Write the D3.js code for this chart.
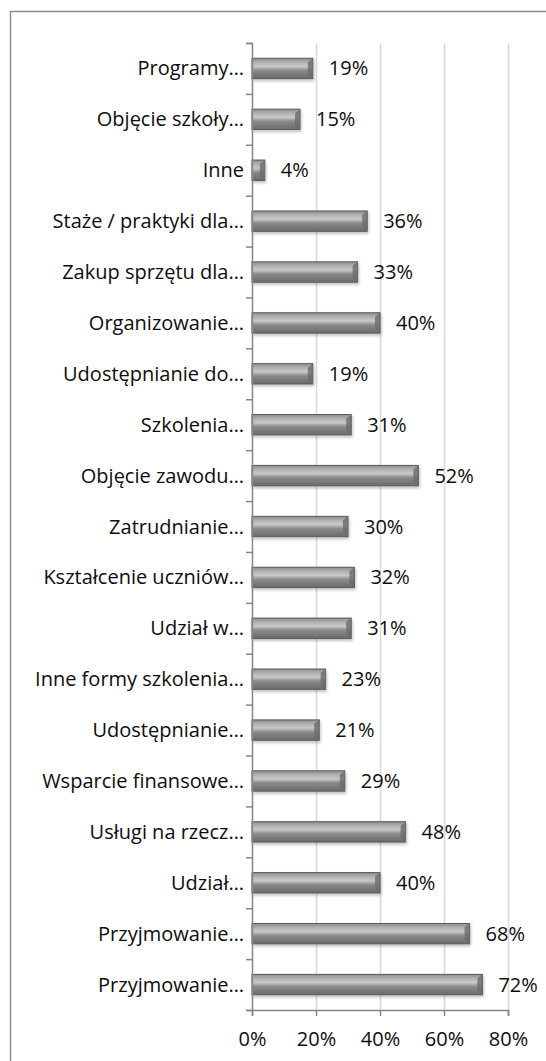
<!DOCTYPE html>
<html>
<head>
<meta charset="utf-8">
<script src="https://cdn.jsdelivr.net/npm/d3@7"></script>
<style>
  body { margin: 0; background: #fff; }
  text { font-family: "Open Sans", Lato, sans-serif; fill: #0d0d0d; }
</style>
</head>
<body>
<script>
var categories = [
  "Programy…", "Objęcie szkoły…", "Inne", "Staże / praktyki dla…",
  "Zakup sprzętu dla…", "Organizowanie…", "Udostępnianie do…", "Szkolenia…",
  "Objęcie zawodu…", "Zatrudnianie…", "Kształcenie uczniów…", "Udział w…",
  "Inne formy szkolenia…", "Udostępnianie…", "Wsparcie finansowe…",
  "Usługi na rzecz…", "Udział…", "Przyjmowanie…", "Przyjmowanie…"
];
var values = [0.19, 0.15, 0.04, 0.36, 0.33, 0.40, 0.19, 0.31, 0.52, 0.30,
              0.32, 0.31, 0.23, 0.21, 0.29, 0.48, 0.40, 0.68, 0.72];
var ticks = [0, 0.2, 0.4, 0.6, 0.8];

var width = 546, height = 1061,
    plotLeft = 252, plotRight = 508, plotTop = 43, plotBottom = 1010,
    fontSize = "20px";

var svg = d3.select("body").append("svg")
    .attr("width", width)
    .attr("height", height);

var defs = svg.append("defs");
var grad = defs.append("linearGradient")
    .attr("id", "barGrad")
    .attr("x1", 0).attr("y1", 0).attr("x2", 0).attr("y2", 1);
grad.append("stop").attr("offset", "0%").attr("stop-color", "#8e8e8e");
grad.append("stop").attr("offset", "22%").attr("stop-color", "#b4b4b4");
grad.append("stop").attr("offset", "40%").attr("stop-color", "#c9c9c9");
grad.append("stop").attr("offset", "60%").attr("stop-color", "#8a8a8a");
grad.append("stop").attr("offset", "100%").attr("stop-color", "#6a6a6a");

var shadow = defs.append("filter").attr("id", "shadow")
    .attr("x", "-10%").attr("y", "-30%").attr("width", "130%").attr("height", "180%");
shadow.append("feDropShadow")
    .attr("dx", 1).attr("dy", 2).attr("stdDeviation", 1.5)
    .attr("flood-color", "#000").attr("flood-opacity", 0.25);

// chart border
svg.append("rect")
    .attr("x", 10.5).attr("y", 11.5)
    .attr("width", 560).attr("height", 1080)
    .attr("fill", "none")
    .attr("stroke", "#8c8c8c")
    .attr("stroke-width", 1.5);

var x = d3.scaleLinear().domain([0, 0.8]).range([plotLeft, plotRight]);
var y = d3.scaleBand().domain(d3.range(categories.length))
    .range([plotTop, plotBottom]).paddingInner(0.6).paddingOuter(0.3);

// grid lines
svg.append("g").selectAll("line")
    .data(ticks.slice(1))
    .enter().append("line")
    .attr("x1", function(d) { return Math.round(x(d)) + 0.5; })
    .attr("x2", function(d) { return Math.round(x(d)) + 0.5; })
    .attr("y1", plotTop).attr("y2", plotBottom)
    .attr("stroke", "#d9d9d9")
    .attr("stroke-width", 1.5);

// bars
var bar = svg.append("g").selectAll("g")
    .data(values)
    .enter().append("g");

bar.append("rect")
    .attr("x", plotLeft)
    .attr("y", function(d, i) { return y(i); })
    .attr("width", function(d) { return x(d) - plotLeft; })
    .attr("height", y.bandwidth())
    .attr("fill", "url(#barGrad)")
    .attr("stroke", "#5a5a5a")
    .attr("stroke-width", 1)
    .attr("filter", "url(#shadow)");

// bevel at right end
bar.append("path")
    .attr("d", function(d, i) {
      var x1 = x(d), y0 = y(i), h = y.bandwidth(), b = Math.min(5, (x(d) - plotLeft) / 2);
      return "M" + x1 + "," + y0 + "L" + (x1 - b) + "," + (y0 + 4) +
             "L" + (x1 - b) + "," + (y0 + h - 4) + "L" + x1 + "," + (y0 + h) + "Z";
    })
    .attr("fill", "#6c6c6c")
    .attr("opacity", 0.8);

// value labels
bar.append("text")
    .attr("x", function(d) { return x(d) + 16; })
    .attr("y", function(d, i) { return y(i) + y.bandwidth() / 2; })
    .attr("dy", "0.35em")
    .attr("font-size", fontSize)
    .text(function(d) { return Math.round(d * 100) + "%"; });

// y axis
var yAxis = d3.axisLeft(
    d3.scaleLinear().domain([0, categories.length]).range([plotTop, plotBottom]))
    .tickValues(d3.range(categories.length + 1))
    .tickSize(6).tickFormat("");
var gy = svg.append("g").attr("transform", "translate(" + plotLeft + ",0)").call(yAxis);
gy.select(".domain").attr("stroke", "#868686").attr("stroke-width", 1.5);
gy.selectAll(".tick line").attr("stroke", "#868686").attr("stroke-width", 1.5);

// category labels
svg.append("g").selectAll("text")
    .data(categories)
    .enter().append("text")
    .attr("x", 244)
    .attr("y", function(d, i) { return y(i) + y.bandwidth() / 2; })
    .attr("dy", "0.35em")
    .attr("text-anchor", "end")
    .attr("font-size", fontSize)
    .text(function(d) { return d; });

// x axis
var xAxis = d3.axisBottom(x).tickValues(ticks)
    .tickSize(6).tickPadding(16)
    .tickFormat(d3.format(".0%"));
var gx = svg.append("g").attr("transform", "translate(0," + plotBottom + ")").call(xAxis);
gx.select(".domain").attr("stroke", "#868686").attr("stroke-width", 1.5);
gx.selectAll(".tick line").attr("stroke", "#868686").attr("stroke-width", 1.5);
gx.selectAll(".tick text")
    .attr("font-size", fontSize)
    .attr("font-family", "'Open Sans', Lato, sans-serif")
    .attr("fill", "#0d0d0d");
</script>
</body>
</html>
